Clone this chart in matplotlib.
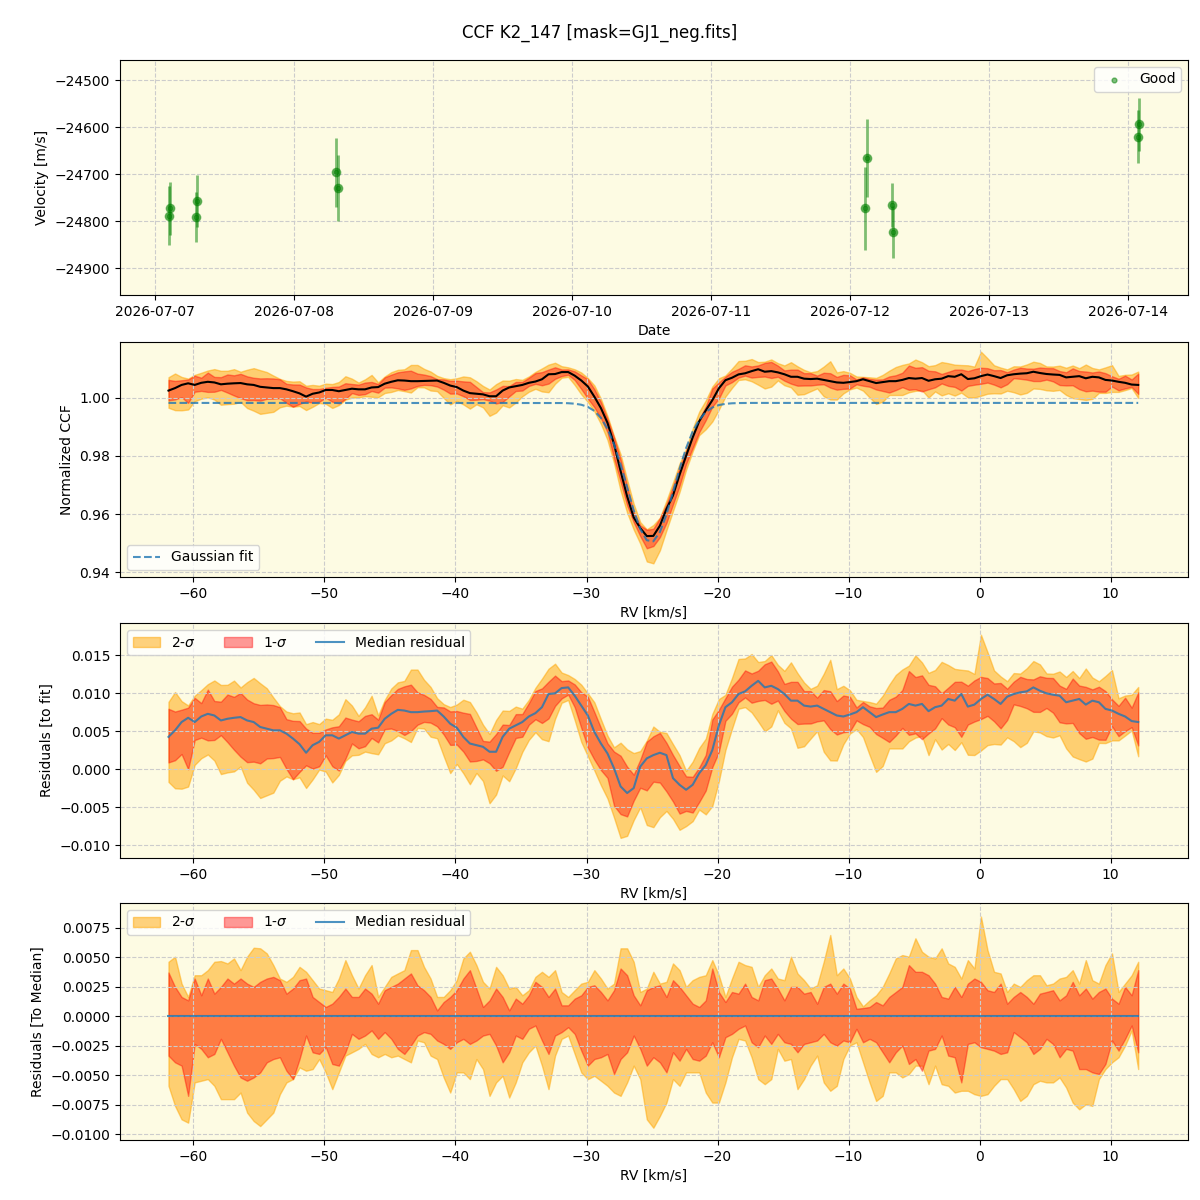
import numpy as np
import pandas as pd
import matplotlib
matplotlib.use('Agg')
import matplotlib.pyplot as plt
import matplotlib.dates as mdates
from matplotlib.ticker import MultipleLocator

# --- RV time series (top panel) ---
obs_dates = pd.to_datetime(['2026-07-07 02:18', '2026-07-07 02:31', '2026-07-07 07:00', '2026-07-07 07:12',
                            '2026-07-08 07:12', '2026-07-08 07:32', '2026-07-12 02:33', '2026-07-12 02:53',
                            '2026-07-12 07:12', '2026-07-12 07:23', '2026-07-14 01:51', '2026-07-14 02:01'])
vel = [-24788, -24773, -24791, -24757, -24696, -24730, -24773, -24666, -24765, -24823, -24620, -24594]
vel_err = [63, 57, 54, 56, 73, 70, 89, 83, 47, 56, 57, 56]

# --- CCF (rv grid, step 0.5 km/s) ---
rv = -61.9 + 0.5 * np.arange(149)

# gaussian fit parameters
fit_base = 0.9983
fit_depth = 0.048
fit_center = -25.1
fit_sigma = 1.8

# median residual to fit (units of 1e-3)
med_resid = [4.25, 5.11, 6.20, 6.76, 6.20, 6.93, 7.28, 7.06, 6.41, 6.63, 6.76, 6.85, 6.41, 6.20, 5.55, 5.33, 5.11, 5.11,
             4.68, 4.03, 3.29, 2.17, 3.16, 3.60, 4.46, 4.46, 4.03, 4.46, 4.90, 4.68, 4.68, 5.33, 5.46, 6.63, 7.28, 7.80,
             7.71, 7.50, 7.50, 7.58, 7.63, 7.71, 6.93, 5.98, 5.46, 4.25, 3.38, 3.16, 2.95, 2.30,
             2.30, 4.25, 5.33, 5.76, 6.20, 6.93, 7.37, 8.15, 9.88, 9.97, 10.66, 10.75, 9.66, 8.36, 7.06, 4.90, 3.38,
             2.08, 0.13, -2.25, -3.12, -2.47, 0.35, 1.43, 1.86, 2.17, 1.86, -1.17, -2.04, -2.69, -2.04, -0.52, 0.56,
             2.51, 5.76, 8.15, 8.80, 9.88, 10.23, 10.96, 11.61, 10.75, 10.96, 10.53, 9.88, 9.01, 9.01, 8.36,
             8.23, 8.36, 7.93, 7.50, 7.06, 6.93, 7.19, 7.50, 8.15, 7.50, 6.85, 7.19, 7.50, 7.50, 7.93, 8.58, 8.36,
             8.58, 7.63, 8.15, 8.36, 9.23, 9.01, 9.88, 8.23, 8.49, 9.23, 9.79, 9.23, 8.58, 9.53, 9.88, 10.10, 10.23,
             10.75, 10.31, 9.97, 9.79, 9.66, 8.80, 9.01, 9.23, 8.49, 9.01, 8.80, 7.93, 7.71, 7.28, 6.93, 6.33, 6.20]

# band edges relative to the median (units of 1e-3)
hi2 = [4.60, 5.03, 2.75, 1.62, 3.46, 3.46, 3.89, 4.60, 4.66, 4.46, 4.88, 3.89, 5.03, 5.79, 5.74, 5.31, 4.32, 3.18,
       2.90, 3.32, 4.17, 3.75, 3.04, 2.33, 2.19, 2.04, 3.18, 4.74, 3.46, 2.33, 3.46, 4.32, 1.62, 2.47, 3.32, 3.61,
       3.89, 5.59,
       5.59, 4.17, 3.18, 1.62, 1.62, 2.19, 3.04, 4.88, 5.45, 4.32, 2.90, 2.33, 4.17, 3.46, 2.33, 2.47, 1.76, 2.19,
       3.32, 3.75, 3.32, 3.89, 2.04, 1.62, 2.19, 2.75, 2.90, 3.89, 3.18, 2.33, 2.75, 5.74, 5.74, 4.60, 2.04, 2.33,
       3.75, 2.75, 2.90, 4.46, 3.89, 2.47, 3.04, 3.32, 3.46, 4.74, 3.46, 1.62, 3.18, 4.60, 4.32, 4.17, 2.47, 3.46,
       4.03, 3.18, 3.04, 5.03, 3.61, 3.04, 2.33, 2.61, 4.60, 6.87, 3.46, 4.03, 3.18, 1.62, 0.82, 1.33, 1.76, 2.47,
       3.61,
       4.88, 5.17, 5.03, 6.59, 5.45, 5.03, 4.88, 5.74, 4.46, 4.17, 3.18, 4.74, 4.03, 8.43, 5.59, 3.75, 3.61, 2.04,
       2.75, 2.47, 3.04, 3.46, 3.46, 2.61, 2.75, 3.18, 3.32, 3.89, 2.75, 4.74, 3.04, 2.75, 4.32, 5.31, 2.04, 2.75,
       3.46, 4.60]
hi1 = [3.69, 2.47, 1.62, 1.33, 3.18, 1.76, 3.18, 1.90, 2.47, 3.18, 2.75, 3.18, 2.75, 2.47, 2.90, 3.18, 3.32, 3.04,
       1.90, 2.33, 3.04, 3.18, 1.62, 1.19, 0.77, 1.05, 1.62, 2.33, 1.62, 1.62, 2.33, 1.90, 1.05, 2.19, 2.47, 2.75,
       3.18, 3.61,
       2.61, 2.19, 1.62, 0.48, 1.19, 1.62, 2.19, 3.18, 3.89, 2.33, 0.77, 1.33, 2.33, 1.62, 0.48, 1.48, 1.05, 1.76,
       2.90, 2.47, 1.62, 2.33, 0.91, 0.91, 1.48, 1.76, 2.47, 2.61, 2.04, 1.33, 2.19, 4.03, 3.46, 1.76, 0.91, 2.19,
       2.47, 2.61, 1.62, 3.04, 2.47, 1.76, 1.05, 0.77, 1.33, 4.03, 2.04, 1.19, 2.04, 1.90, 2.75, 1.62, 1.33, 3.04,
       3.18, 2.33, 1.33, 2.47, 2.47, 1.90, 2.04, 1.05, 2.47, 2.75, 1.90, 2.75, 2.33, 0.62, 0.68, 0.77, 1.19, 0.91,
       1.62,
       2.04, 2.47, 4.32, 3.75, 3.75, 3.46, 2.75, 1.62, 1.48, 2.47, 1.62, 2.75, 3.18, 2.90, 2.19, 2.04, 2.75, 1.05,
       1.62, 2.04, 1.62, 1.05, 1.90, 2.04, 2.19, 1.33, 1.76, 2.90, 1.76, 2.33, 1.48, 2.04, 2.33, 1.48, 1.05, 2.47,
       1.76, 3.89]
lo1 = [-3.35, -3.92, -4.20, -6.76, -2.36, -2.78, -3.49, -3.21, -1.93, -3.07, -4.20, -5.20, -5.48, -5.20, -4.77,
       -3.92, -3.64, -3.49, -4.63, -5.34, -3.64, -1.65, -3.07, -3.21, -2.64, -4.06, -4.20, -3.07, -1.51, -1.93,
       -1.65, -1.22, -1.93, -1.36, -1.93, -2.78, -3.21, -2.50,
       -1.65, -1.36, -1.51, -2.07, -2.36, -2.78, -2.22, -1.93, -2.36, -2.07, -1.65, -1.51, -2.50, -3.92, -3.07,
       -1.65, -1.93, -1.08, -0.80, -2.07, -3.21, -1.65, -1.36, -0.94, -1.51, -2.93, -4.20, -3.64, -3.49, -3.21,
       -4.91, -3.64, -3.07, -1.65, -2.78, -4.20,
       -3.49, -3.92, -4.77, -3.07, -3.78, -2.78, -3.64, -3.78, -3.35, -2.22, -3.49, -1.79, -1.51, -1.08, -0.80,
       -2.22, -2.64, -1.65, -2.36, -1.51, -2.22, -2.36, -3.07, -2.36, -2.22, -2.07, -1.51, -2.22, -2.50, -2.07,
       -2.22, -1.08, -2.22, -1.93, -2.22, -3.07, -3.92,
       -3.07, -2.50, -4.06, -3.64, -4.63, -2.93, -2.78, -1.65, -3.35, -3.49, -5.62, -2.36, -2.22, -2.64, -2.78,
       -2.93, -3.21, -3.07, -1.36, -1.79, -2.22, -3.21, -2.78, -1.93, -2.36, -3.49, -2.78, -2.93, -4.49, -4.49,
       -4.77, -4.91, -4.06, -2.07, -2.93, -1.93, -0.80, -3.07]
lo2 = [-5.91, -7.61, -8.75, -9.03, -5.62, -5.48, -5.34, -5.91, -7.04, -7.04, -7.04, -6.48, -8.18, -8.89, -9.32,
       -8.75, -8.18, -6.62, -5.62, -5.34, -4.35, -4.63, -4.49, -3.64, -4.77, -6.19, -4.77, -3.35, -3.07, -2.78,
       -2.36, -3.21, -3.49, -3.21, -3.49, -3.35, -3.64, -3.92,
       -2.07, -2.22, -3.35, -3.64, -5.20, -6.48, -4.77, -4.77, -5.34, -3.64, -4.49, -6.76, -5.62, -5.06, -6.90,
       -5.62, -3.92, -3.07, -2.50, -4.20, -6.19, -3.35, -1.93, -1.65, -3.21, -4.77, -5.34, -5.06, -5.48, -5.91,
       -6.48, -6.76, -5.62, -4.20, -5.34, -8.75,
       -9.46, -8.46, -7.33, -5.34, -5.91, -4.77, -4.77, -4.77, -6.48, -7.33, -7.33, -5.62, -3.49, -1.93, -2.07,
       -3.49, -5.34, -5.77, -5.34, -2.78, -3.78, -3.64, -6.19, -5.34, -4.20, -3.35, -5.62, -6.33, -5.91, -3.64,
       -2.50, -2.22, -3.92, -5.62, -7.19, -6.76, -4.77,
       -4.77, -5.20, -4.91, -4.20, -4.20, -5.77, -4.20, -5.77, -5.91, -6.48, -6.33, -6.33, -6.62, -6.76, -6.62,
       -5.91, -5.34, -5.34, -6.19, -7.19, -6.76, -5.77, -5.48, -5.62, -5.62, -5.20, -6.05, -7.33, -7.90, -7.47,
       -7.61, -5.34, -4.49, -3.92, -3.49, -2.50, -1.22, -4.49]

med = np.array(med_resid) * 1e-3
d_hi2 = np.array(hi2) * 1e-3
d_hi1 = np.array(hi1) * 1e-3
d_lo1 = np.array(lo1) * 1e-3
d_lo2 = np.array(lo2) * 1e-3

gfit = fit_base - fit_depth * np.exp(-(rv - fit_center) ** 2 / (2 * fit_sigma ** 2))
ccf = gfit + med

bg = '#fdfbe3'
grid_kw = dict(color='#cccccc', linestyle='--', linewidth=0.8)

fig = plt.figure(figsize=(12, 12), dpi=100)
fig.suptitle('CCF K2_147 [mask=GJ1_neg.fits]', y=0.98)

# panel 1: velocities
ax1 = fig.add_axes([0.1, 0.7542, 0.89, 0.1958])
ax1.set_facecolor(bg)
ax1.errorbar(obs_dates, vel, yerr=vel_err, fmt='o', color='green', alpha=0.5, ms=6, elinewidth=2)
ax1.scatter(obs_dates, vel, s=12, color='green', alpha=0.5, label='Good')
ax1.set_ylim(-24957, -24457)
ax1.xaxis.set_major_formatter(mdates.DateFormatter('%Y-%m-%d'))
ax1.set_xlabel('Date')
ax1.set_ylabel('Velocity [m/s]')
ax1.grid(True, **grid_kw)
ax1.legend(loc='upper right')

# panel 2: CCF
ax2 = fig.add_axes([0.1, 0.5192, 0.89, 0.1958])
ax2.set_facecolor(bg)
ax2.fill_between(rv, ccf + d_lo2, ccf + d_hi2, color='orange', alpha=0.5)
ax2.fill_between(rv, ccf + d_lo1, ccf + d_hi1, color='red', alpha=0.4)
ax2.plot(rv, ccf, color='black', lw=1.5)
ax2.plot(rv, gfit, color='C0', ls='--', lw=1.5, alpha=0.8, label='Gaussian fit')
ax2.set_ylim(0.9383, 1.0193)
ax2.set_xlim(-65.6, 15.9)
ax2.set_xlabel('RV [km/s]')
ax2.set_ylabel('Normalized CCF')
ax2.grid(True, **grid_kw)
ax2.legend(loc='lower left')

# panel 3: residuals to fit
ax3 = fig.add_axes([0.1, 0.285, 0.89, 0.1958])
ax3.set_facecolor(bg)
ax3.fill_between(rv, med + d_lo2, med + d_hi2, color='orange', alpha=0.5, label=r'2-$\sigma$')
ax3.fill_between(rv, med + d_lo1, med + d_hi1, color='red', alpha=0.4, label=r'1-$\sigma$')
ax3.plot(rv, med, color='C0', lw=1.5, alpha=0.8, label='Median residual')
ax3.set_ylim(-0.01165, 0.0192)
ax3.set_xlim(-65.6, 15.9)
ax3.set_xlabel('RV [km/s]')
ax3.set_ylabel('Residuals [to fit]')
ax3.grid(True, **grid_kw)
ax3.legend(loc='upper left', ncol=3)

# panel 4: residuals to median
ax4 = fig.add_axes([0.1, 0.05, 0.89, 0.1975])
ax4.set_facecolor(bg)
ax4.fill_between(rv, d_lo2, d_hi2, color='orange', alpha=0.5, label=r'2-$\sigma$')
ax4.fill_between(rv, d_lo1, d_hi1, color='red', alpha=0.4, label=r'1-$\sigma$')
ax4.plot(rv, np.zeros_like(rv), color='C0', lw=1.5, alpha=0.8, label='Median residual')
ax4.set_ylim(-0.0105, 0.00958)
ax4.set_xlim(-65.6, 15.9)
ax4.yaxis.set_major_locator(MultipleLocator(0.0025))
ax4.set_xlabel('RV [km/s]')
ax4.set_ylabel('Residuals [To Median]')
ax4.grid(True, **grid_kw)
ax4.legend(loc='upper left', ncol=3)

fig.savefig('out.png', dpi=100)
